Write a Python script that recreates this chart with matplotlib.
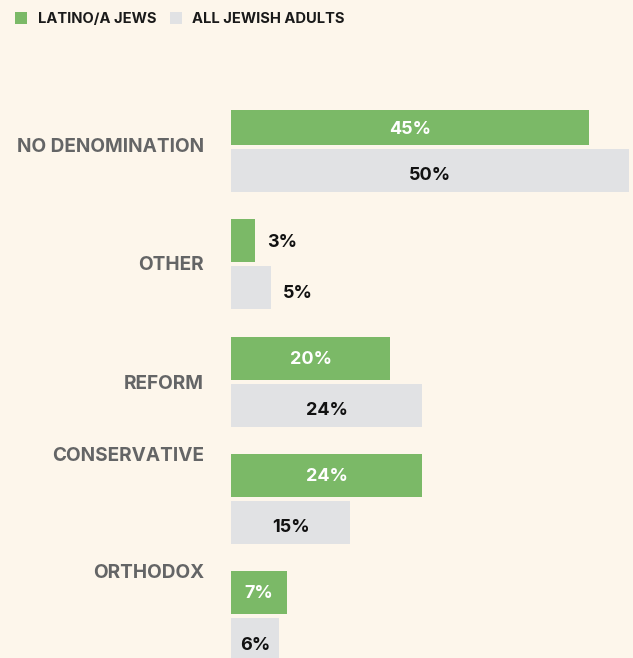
import matplotlib
matplotlib.use("Agg")
import matplotlib.pyplot as plt
import numpy as np

# ---- data ----
categories = ["NO DENOMINATION", "OTHER", "REFORM", "CONSERVATIVE", "ORTHODOX"]
latino = [45, 3, 20, 24, 7]
all_adults = [50, 5, 24, 15, 6]
series_names = ["LATINO/A JEWS", "ALL JEWISH ADULTS"]

# ---- style ----
BG = "#FDF6EB"
GREEN = "#7BB967"
GREY = "#E1E2E4"
CAT_COLOR = "#646566"
FONT = "Inter"

W, H = 633, 658
fig = plt.figure(figsize=(W / 100, H / 100), dpi=100, facecolor=BG)
ax = fig.add_axes([0, 0, 1, 1])
ax.set_facecolor(BG)
PX_PER_PCT = 7.96
X0 = 231
ax.set_xlim(-X0 / PX_PER_PCT, (W - X0) / PX_PER_PCT)
ax.set_ylim(H, 0)
ax.axis("off")

n = len(categories)
k = np.arange(n)
grey_top = 149 + 117.25 * k
bar_h = np.full(n, 43.0)
green_top = grey_top - 47
green_h = bar_h.copy()
green_top[0] = 110
green_h[0] = 35

ax.barh(green_top + green_h / 2, latino, height=green_h, left=0, color=GREEN, linewidth=0)
ax.barh(grey_top + bar_h / 2, all_adults, height=bar_h, left=0, color=GREY, linewidth=0)

# category labels
cat_offsets = [-4, -3, -1, -46.5, -47]
CAT_FS = 13.7
CAT_CAP = 13.4
for i, c in enumerate(categories):
    yc = grey_top[i] + cat_offsets[i]
    ax.text(-27 / PX_PER_PCT, yc + CAT_CAP / 2, c, ha="right", va="baseline",
            fontsize=CAT_FS, fontweight="bold", color=CAT_COLOR, family=FONT)

VAL_FS = 13
VAL_CAP = 13
def val_label(v, yc, inside_color):
    if v >= 6:
        ax.text(v / 2, yc + VAL_CAP / 2, f"{v}%", ha="center", va="baseline",
                fontsize=VAL_FS, fontweight="bold", color=inside_color, family=FONT)
    else:
        ax.text(v + 12.5 / PX_PER_PCT, yc + VAL_CAP / 2, f"{v}%", ha="left", va="baseline",
                fontsize=VAL_FS, fontweight="bold", color="#111111", family=FONT)

for i in range(n):
    val_label(latino[i], green_top[i] + green_h[i] / 2 - 0.5, "white")
    val_label(all_adults[i], grey_top[i] + bar_h[i] / 2 + 3.5, "#111111")

# legend
def px2x(px):
    return (px - X0) / PX_PER_PCT

leg_items = [(series_names[0], GREEN, 15, 38), (series_names[1], GREY, 170, 192)]
for name, col, sq_x, tx in leg_items:
    ax.add_patch(plt.Rectangle((px2x(sq_x), 12), 12.3 / PX_PER_PCT, 12, color=col, linewidth=0))
    ax.text(px2x(tx), 18 + 10.7 / 2, name, ha="left", va="baseline",
            fontsize=10.6, fontweight="bold", color="#1a1a1a", family=FONT)

fig.savefig("out.png", dpi=100, facecolor=BG)
